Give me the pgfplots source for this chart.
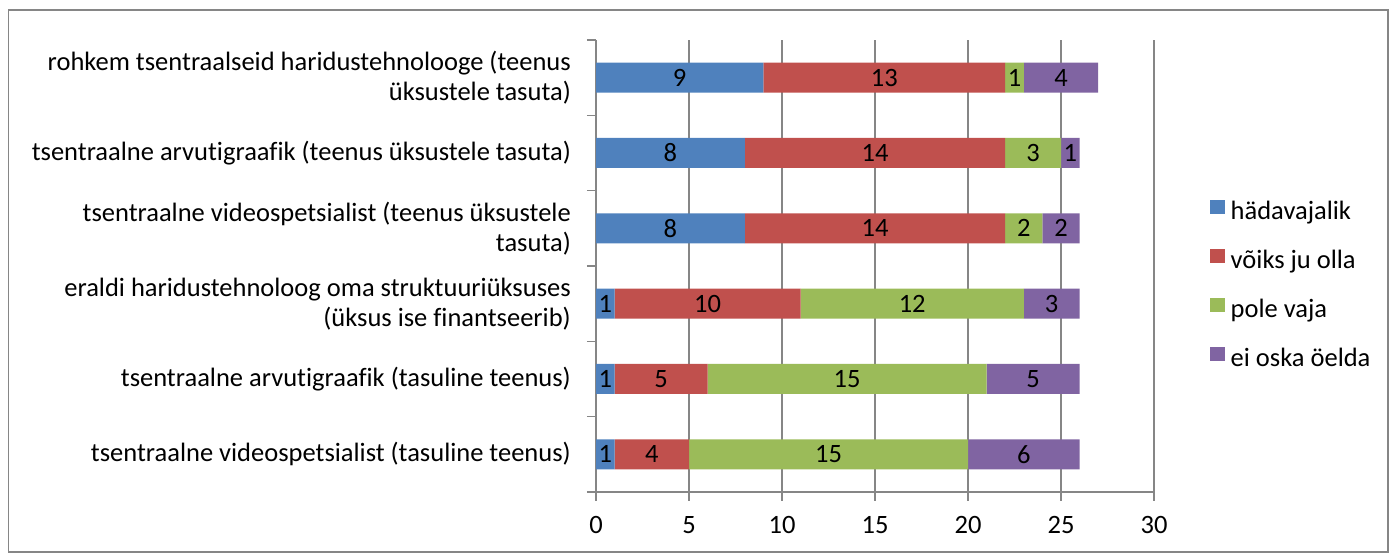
\documentclass[border=0pt]{standalone}
\usepackage{pgfplots}
\pgfplotsset{compat=1.18}
\usepackage{fontspec}
\setmainfont{Carlito}[Ligatures={NoCommon}]
\definecolor{cblue}{HTML}{4F81BD}
\definecolor{cred}{HTML}{C0504D}
\definecolor{cgreen}{HTML}{9BBB59}
\definecolor{cpurple}{HTML}{8064A2}
\definecolor{gridgray}{HTML}{868686}
\begin{document}
\fontsize{26.5}{30}\selectfont
\begin{tikzpicture}
\path[use as bounding box] (0,0) rectangle (1389pt,553pt);
\draw[color=gridgray, line width=1.5pt] (8.5pt,1pt) rectangle (1388pt,543pt);
\begin{axis}[
  at={(596pt,61pt)}, anchor=south west,
  scale only axis, width=558pt, height=452pt,
  xmin=0, xmax=30, ymin=-0.5, ymax=5.5,
  enlargelimits=false,
  xbar stacked, bar width=30pt,
  axis lines*=left,
  axis line style={draw=gridgray, line width=1.5pt},
  tick align=outside,
  major tick length=0pt,
  minor tick length=9pt,
  xtick={0,5,...,30},
  minor xtick={0,5,...,30},
  ytick={0,...,5},
  minor ytick={-0.5,0.5,...,5.5},
  minor tick style={draw=gridgray, line width=1.5pt},
  xmajorgrids,
  major grid style={draw=gridgray, line width=1.5pt},
  /pgf/number format/assume math mode=true,
  xticklabel style={inner sep=0pt, anchor=base, yshift=-42pt},
  yticklabel style={inner sep=0pt, anchor=east, xshift=-25pt, align=right},
  yticklabels={
    {tsentraalne videospetsialist (tasuline teenus)},
    {tsentraalne arvutigraafik (tasuline teenus)},
    {eraldi haridustehnoloog oma struktuuriüksuses\\(üksus ise finantseerib)},
    {tsentraalne videospetsialist (teenus üksustele\\tasuta)},
    {tsentraalne arvutigraafik (teenus üksustele tasuta)},
    {rohkem tsentraalseid haridustehnolooge (teenus\\üksustele tasuta)}
  },
  point meta=rawx,
  nodes near coords={\pgfmathprintnumber{\pgfplotspointmeta}},
  nodes near coords align={center},
  every node near coord/.append style={text=black, inner sep=0pt},
  legend style={at={(1.1004,0.6465)}, anchor=north west, draw=none, fill=none,
    inner sep=0pt, row sep=23pt, column sep=5.5pt,
    nodes={inner sep=0pt, text height=18pt, text depth=6pt}},
  legend cell align=left,
  legend image code/.code={\fill[#1] (0pt,0pt) rectangle (15pt,14pt);},
]
\addplot[fill=cblue, draw=none] coordinates {(1,0) (1,1) (1,2) (8,3) (8,4) (9,5)};
\addplot[fill=cred, draw=none] coordinates {(4,0) (5,1) (10,2) (14,3) (14,4) (13,5)};
\addplot[fill=cgreen, draw=none] coordinates {(15,0) (15,1) (12,2) (2,3) (3,4) (1,5)};
\addplot[fill=cpurple, draw=none] coordinates {(6,0) (5,1) (3,2) (2,3) (1,4) (4,5)};
\legend{hädavajalik, võiks ju olla, pole vaja, ei oska öelda}
\end{axis}
\end{tikzpicture}
\end{document}
